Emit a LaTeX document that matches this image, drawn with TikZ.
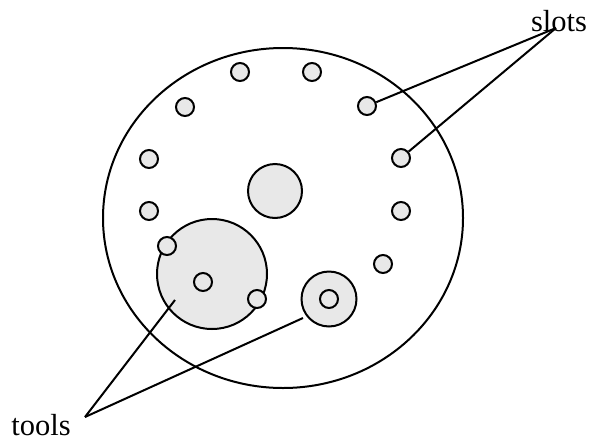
\documentclass[tikz,border=0pt]{standalone}
\usepackage{fontspec}
\usetikzlibrary{shapes.geometric}
\setmainfont{Liberation Serif}
\begin{document}
\begin{tikzpicture}[x=1pt,y=-1pt,
  outline/.style={draw=black,line width=2pt},
  slotc/.style={circle,outline,fill=gray!18,minimum size=18pt,inner sep=0pt},
  lbl/.style={font=\fontsize{30.5}{36}\selectfont,inner sep=0pt},
  conn/.style={line width=2pt}]
\useasboundingbox (0,0) rectangle (599,442);
% base disk
\node[ellipse,outline,minimum width=360pt,minimum height=340pt,inner sep=0pt] (disk) at (283,218) {};
% tools
\node[circle,outline,fill=gray!18,minimum size=110pt,inner sep=0pt] (tA) at (212,274) {};
\node[circle,outline,fill=gray!18,minimum size=55pt,inner sep=0pt] (tB) at (329,299) {};
\node[circle,outline,fill=gray!18,minimum size=54pt,inner sep=0pt] (ctr) at (275,191) {};
% slots
\node[slotc] (s1) at (240,72) {};
\node[slotc] (s2) at (312,72) {};
\node[slotc] (s3) at (185,107) {};
\node[slotc] (s4) at (367,106) {};
\node[slotc] (s5) at (149,159) {};
\node[slotc] (s6) at (401,158) {};
\node[slotc] (s7) at (149,211) {};
\node[slotc] (s8) at (401,211) {};
\node[slotc] (s9) at (167,246) {};
\node[slotc] (s10) at (383,264) {};
\node[slotc] (s11) at (257,299) {};
\node[slotc] (s12) at (203,282) {};
\node[slotc] (s13) at (329,299) {};
% labels
\node[lbl] (slots) at (559,21) {slots};
\node[lbl] (tools) at (41,425) {tools};
\coordinate (sa) at (556,28);
\coordinate (ta) at (85,417);
\coordinate (tAend) at (175,300);
\coordinate (tBend) at (303,318);
\draw[conn] (sa) -- (s4);
\draw[conn] (sa) -- (s6);
\draw[conn] (ta) -- (tAend);
\draw[conn] (ta) -- (tBend);
\end{tikzpicture}
\end{document}
